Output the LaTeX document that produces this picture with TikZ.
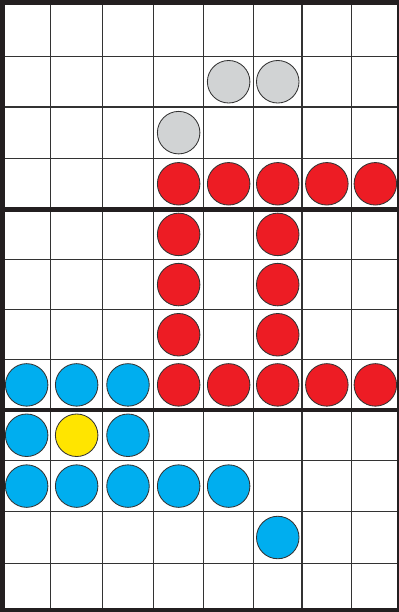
\documentclass[tikz,border=0pt]{standalone}
\usepackage{xcolor}
\usepackage{tikz}

\definecolor{stonered}{HTML}{ED1C24}
\definecolor{stoneblue}{HTML}{00AEEF}
\definecolor{stoneyellow}{HTML}{FFE500}
\definecolor{stonegray}{HTML}{D1D3D4}
\definecolor{boardline}{HTML}{231F20}

% cell centres of the board (columns, rows)
\def\cx{{26.65,76.65,128,178.65,228.65,277.75,326.85,375.35}}
\def\cy{{29.5,81.75,132.65,183.8,234.4,284.6,334.75,384.9,435.25,486.1,537.5,586.6}}

\newcommand\putstone[3]{%
  \pgfmathsetmacro\sx{\cx[#2]}%
  \pgfmathsetmacro\sy{\cy[#3]}%
  \node[stone, fill=#1] (s-#2-#3) at (\sx,\sy) {};}

\begin{document}
\begin{tikzpicture}[
  x=0.025cm, y=-0.025cm,
  gridline/.style={draw=black!80, line width=0.9pt},
  heavyline/.style={draw=boardline, line width=3.5pt},
  stone/.style={circle, draw=black!80, line width=0.6pt, minimum size=1.0625cm, inner sep=0pt},
]
\clip (0,0) rectangle (399,612);
\fill[white] (0,0) rectangle (399,612);

% Board
\foreach \gx in {50.8,102.5,153.5,203.8,253.5,302,351.7}
  \draw[gridline] (\gx,0) -- (\gx,612);
\foreach \gy in {56.5,107,158.3,259.5,309.7,359.8,460.5,511.7,563.3}
  \draw[gridline] (0,\gy) -- (399,\gy);
\foreach \gy in {209.3,410}
  \draw[heavyline] (0,\gy) -- (399,\gy);
\draw[heavyline] (2.5,2.5) rectangle (399,610);

% Stones
\foreach \c/\r in {4/1,5/1,3/2}{\putstone{stonegray}{\c}{\r}}
\foreach \c/\r in {3/3,4/3,5/3,6/3,7/3,3/4,5/4,3/5,5/5,3/6,5/6,3/7,4/7,5/7,6/7,7/7}{\putstone{stonered}{\c}{\r}}
\foreach \c/\r in {0/7,1/7,2/7,0/8,2/8,0/9,1/9,2/9,3/9,4/9,5/10}{\putstone{stoneblue}{\c}{\r}}
\putstone{stoneyellow}{1}{8}

\end{tikzpicture}
\end{document}
